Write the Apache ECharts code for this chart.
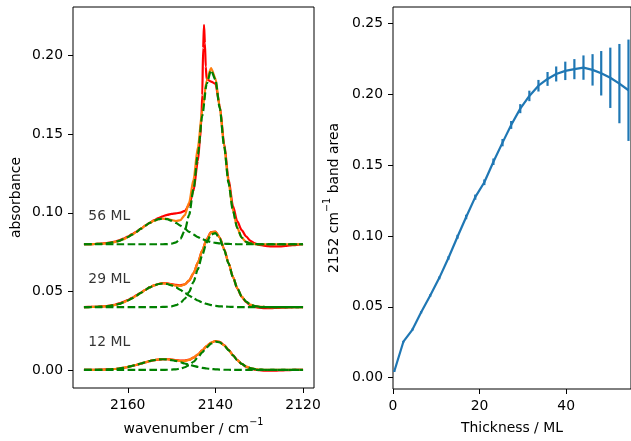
<!DOCTYPE html>
<html>
<head>
<meta charset="utf-8">
<script src="https://cdn.jsdelivr.net/npm/echarts@6/dist/echarts.min.js"></script>
<style>
html,body{margin:0;padding:0;background:#fff;}
#c{width:631px;height:441px;}
</style>
</head>
<body>
<div id="c"></div>
<script>
// ---------- Left panel data (wavenumber grid, cm^-1) ----------
const waveFit = [2170,2169,2168,2167,2166,2165,2164,2163,2162,2161,
  2160,2159,2158,2157,2156,2155,2154,2153,2152,2151,
  2150,2149,2148,2147,2146,2145,2144,2143,2142,2141,
  2140,2139,2138,2137,2136,2135,2134,2133,2132,2131,
  2130,2129,2128,2127,2126,2125,2124,2123,2122,2121,2120];

// 12 ML
const g1_12 = [0,0,0,0.0001,0.0001,0.0002,0.0004,0.0006,0.0009,0.0013,
  0.0019,0.0026,0.0033,0.0041,0.0049,0.0057,0.0063,0.0067,0.0068,0.0067,
  0.0063,0.0057,0.0049,0.0041,0.0033,0.0026,0.0019,0.0013,0.0009,0.0006,
  0.0004,0.0002,0.0001,0.0001,0,0,0,0,0,0,
  0,0,0,0,0,0,0,0,0,0,0];
const g2_12 = [0,0,0,0,0,0,0,0,0,0,
  0,0,0,0,0,0,0,0,0,0.0001,
  0.0002,0.0004,0.0008,0.0017,0.0031,0.0052,0.0080,0.0112,0.0144,0.0168,
  0.0180,0.0175,0.0155,0.0126,0.0093,0.0062,0.0038,0.0022,0.0011,0.0005,
  0.0002,0.0001,0,0,0,0,0,0,0,0,0];
const fit_12 = [0,0,0,0.0001,0.0001,0.0002,0.0004,0.0006,0.0009,0.0013,
  0.0019,0.0026,0.0033,0.0041,0.0049,0.0057,0.0063,0.0067,0.0068,0.0068,
  0.0065,0.0061,0.0057,0.0058,0.0064,0.0078,0.0099,0.0125,0.0153,0.0174,
  0.0184,0.0177,0.0156,0.0127,0.0093,0.0062,0.0038,0.0022,0.0011,0.0005,
  0.0002,0.0001,0,0,0,0,0,0,0,0,0];
const obs_12 = [0,0,0.0001,0.0001,0.0002,0.0003,0.0004,0.0006,0.0009,0.0013,
  0.0018,0.0025,0.0032,0.0040,0.0048,0.0056,0.0062,0.0066,0.0068,0.0068,
  0.0066,0.0063,0.0060,0.0060,0.0065,0.0078,0.0098,0.0124,0.0152,0.0173,
  0.0184,0.0178,0.0158,0.0128,0.0095,0.0063,0.0038,0.0021,0.0009,0.0002,
  -0.0002,-0.0004,-0.0005,-0.0005,-0.0004,-0.0003,-0.0002,-0.0001,0,0,0];

// 29 ML
const g1_29 = [0.0400,0.0400,0.0401,0.0402,0.0403,0.0405,0.0408,0.0413,0.0420,0.0430,
  0.0442,0.0456,0.0473,0.0491,0.0509,0.0525,0.0538,0.0547,0.0550,0.0547,
  0.0538,0.0525,0.0509,0.0491,0.0473,0.0456,0.0442,0.0430,0.0420,0.0413,
  0.0408,0.0405,0.0403,0.0402,0.0401,0.0400,0.0400,0.0400,0.0400,0.0400,
  0.0400,0.0400,0.0400,0.0400,0.0400,0.0400,0.0400,0.0400,0.0400,0.0400,0.0400];
const g2_29 = [0.0400,0.0400,0.0400,0.0400,0.0400,0.0400,0.0400,0.0400,0.0400,0.0400,
  0.0400,0.0400,0.0400,0.0400,0.0400,0.0400,0.0400,0.0400,0.0401,0.0402,
  0.0405,0.0412,0.0426,0.0453,0.0497,0.0561,0.0642,0.0731,0.0811,0.0862,
  0.0871,0.0836,0.0765,0.0678,0.0592,0.0520,0.0468,0.0435,0.0416,0.0407,
  0.0403,0.0401,0.0400,0.0400,0.0400,0.0400,0.0400,0.0400,0.0400,0.0400,0.0400];
const fit_29 = [0.0400,0.0400,0.0401,0.0402,0.0403,0.0405,0.0408,0.0413,0.0420,0.0430,
  0.0442,0.0456,0.0473,0.0491,0.0509,0.0525,0.0538,0.0547,0.0551,0.0549,
  0.0543,0.0537,0.0535,0.0544,0.0570,0.0617,0.0684,0.0761,0.0831,0.0875,
  0.0879,0.0841,0.0768,0.0680,0.0593,0.0520,0.0468,0.0435,0.0416,0.0407,
  0.0403,0.0401,0.0400,0.0400,0.0400,0.0400,0.0400,0.0400,0.0400,0.0400,0.0400];
const obs_29 = [0.0400,0.0401,0.0401,0.0402,0.0404,0.0406,0.0410,0.0415,0.0423,0.0433,
  0.0445,0.0459,0.0476,0.0493,0.0510,0.0525,0.0538,0.0547,0.0552,0.0551,
  0.0546,0.0541,0.0538,0.0545,0.0569,0.0615,0.0683,0.0761,0.0832,0.0877,
  0.0881,0.0843,0.0769,0.0680,0.0592,0.0518,0.0465,0.0431,0.0411,0.0401,
  0.0396,0.0394,0.0394,0.0394,0.0395,0.0396,0.0397,0.0398,0.0399,0.0400,0.0400];

// 56 ML
const g1_56 = [0.0800,0.0800,0.0801,0.0802,0.0803,0.0806,0.0809,0.0814,0.0822,0.0832,
  0.0845,0.0861,0.0879,0.0899,0.0918,0.0936,0.0950,0.0960,0.0963,0.0960,
  0.0950,0.0936,0.0918,0.0899,0.0879,0.0861,0.0845,0.0832,0.0822,0.0814,
  0.0809,0.0806,0.0803,0.0802,0.0801,0.0800,0.0800,0.0800,0.0800,0.0800,
  0.0800,0.0800,0.0800,0.0800,0.0800,0.0800,0.0800,0.0800,0.0800,0.0800,0.0800];
const g2_56 = [0.0800,0.0800,0.0800,0.0800,0.0800,0.0800,0.0800,0.0800,0.0800,0.0800,
  0.0800,0.0800,0.0800,0.0800,0.0800,0.0800,0.0800,0.0800,0.0800,0.0801,
  0.0804,0.0812,0.0835,0.0886,0.0986,0.1150,0.1373,0.1619,0.1820,0.1907,
  0.1848,0.1665,0.1422,0.1190,0.1014,0.0902,0.0842,0.0815,0.0805,0.0801,
  0.0800,0.0800,0.0800,0.0800,0.0800,0.0800,0.0800,0.0800,0.0800,0.0800,0.0800];
const fit_56 = [0.0800,0.0800,0.0801,0.0802,0.0803,0.0806,0.0809,0.0814,0.0822,0.0832,
  0.0845,0.0861,0.0879,0.0899,0.0918,0.0936,0.0950,0.0960,0.0963,0.0961,
  0.0954,0.0948,0.0953,0.0985,0.1065,0.1211,0.1418,0.1651,0.1842,0.1921,
  0.1857,0.1671,0.1425,0.1192,0.1015,0.0902,0.0842,0.0815,0.0805,0.0801,
  0.0800,0.0800,0.0800,0.0800,0.0800,0.0800,0.0800,0.0800,0.0800,0.0800,0.0800];
const waveObs56 = [2170,2169,2168,2167,2166,2165,2164,2163,2162,2161,
  2160,2159,2158,2157,2156,2155,2154,2153,2152,2151,
  2150,2149,2148,2147,2146,2145,
  2144,2143.5,2143.2,2143,2142.8,2142.6,2142.4,2142.2,2142,
  2141,2140,2139,2138,2137,2136,2135,2134,2133,2132,2131,
  2130,2129,2128,2127,2126,2125,2124,2123,2122,2121,2120];
const obs_56 = [0.0800,0.0801,0.0801,0.0802,0.0804,0.0807,0.0811,0.0817,0.0825,0.0836,
  0.0849,0.0864,0.0881,0.0899,0.0918,0.0936,0.0953,0.0967,0.0978,0.0987,
  0.0993,0.0997,0.1001,0.1012,0.1050,0.1140,
  0.1330,0.1470,0.1600,0.1750,0.2050,0.2197,0.2080,0.1930,0.1850,
  0.1835,0.1822,0.1680,0.1440,0.1215,0.1045,0.0945,0.0890,0.0850,0.0822,0.0805,
  0.0796,0.0791,0.0788,0.0786,0.0786,0.0787,0.0789,0.0792,0.0795,0.0798,0.0800];

const annotText = ['12 ML', '29 ML', '56 ML'];
const annotX = [2169, 2169, 2169];
const annotY = [0.0175, 0.0576, 0.0977];

const xTicksLeft = [2120, 2140, 2160];
const yTicksLeft = [0, 0.05, 0.10, 0.15, 0.20];

// ---------- Right panel data ----------
const thickness = [0.3,2.4,4.5,6.5,8.6,10.7,12.8,14.9,16.9,19.0,21.1,23.2,25.3,27.3,
  29.4,31.5,33.6,35.7,37.7,39.8,41.9,44.0,46.1,48.1,50.2,52.3,54.4];
const bandArea = [0.0045,0.0254,0.0340,0.0462,0.0580,0.0705,0.0845,0.0995,0.1135,0.1275,
  0.1380,0.1525,0.1660,0.1785,0.1900,0.1990,0.2062,0.2110,0.2145,0.2167,
  0.2179,0.2190,0.2174,0.2150,0.2118,0.2077,0.2030];
const bandErr = [0.0005,0.0006,0.0007,0.0008,0.0009,0.0010,0.0012,0.0014,0.0016,0.0018,
  0.0020,0.0023,0.0026,0.0028,0.0032,0.0037,0.0041,0.0049,0.0053,0.0065,
  0.0071,0.0086,0.0111,0.0157,0.0213,0.0280,0.0358];
const xTicksRight = [0, 20, 40];
const yTicksRight = [0, 0.05, 0.10, 0.15, 0.20, 0.25];

// ---------- Chart ----------
const FONT = 'DejaVu Sans';
const FS = 13.9;
const RED = '#ff0000', ORANGE = '#ff7f0e', GREEN = '#008000', BLUE = '#1f77b4';
const DASH = [7.6, 3.3];
const LW = 2.2;

function pairs(xs, ys) { return xs.map((x, i) => [x, ys[i]]); }

function lineSeries(xs, ys, color, dashed, gi) {
  return {
    type: 'line', xAxisIndex: gi, yAxisIndex: gi,
    data: pairs(xs, ys), showSymbol: false, symbol: 'none',
    smooth: 0.25, smoothMonotone: 'x',
    lineStyle: { color: color, width: LW, type: dashed ? DASH : 'solid' },
    itemStyle: { color: color }, silent: true, z: 2
  };
}

function axisCommon(ticks, fmt, margin) {
  return {
    axisLine: { show: false, onZero: false },
    splitLine: { show: false },
    axisTick: { show: true, customValues: ticks, length: 5, lineStyle: { color: '#000', width: 1 } },
    axisLabel: { customValues: ticks, formatter: fmt, margin: margin, color: '#000', fontFamily: FONT, fontSize: FS }
  };
}
const nameStyle = {
  color: '#000', fontFamily: FONT, fontSize: FS,
  rich: {
    a: { color: '#000', fontFamily: FONT, fontSize: FS, lineHeight: 19, verticalAlign: 'bottom' },
    s: { color: '#000', fontFamily: FONT, fontSize: 9.7, lineHeight: 12, verticalAlign: 'top' }
  }
};

const series = [];
[[obs_12, fit_12, g1_12, g2_12], [obs_29, fit_29, g1_29, g2_29]].forEach(s => {
  series.push(lineSeries(waveFit, s[0], RED, false, 0));
  series.push(lineSeries(waveFit, s[1], ORANGE, false, 0));
  series.push(lineSeries(waveFit, s[2], GREEN, true, 0));
  series.push(lineSeries(waveFit, s[3], GREEN, true, 0));
});
series.push(lineSeries(waveObs56, obs_56, RED, false, 0));
series.push(lineSeries(waveFit, fit_56, ORANGE, false, 0));
series.push(lineSeries(waveFit, g1_56, GREEN, true, 0));
series.push(lineSeries(waveFit, g2_56, GREEN, true, 0));

series.push({
  type: 'scatter', xAxisIndex: 0, yAxisIndex: 0, symbolSize: 0, silent: true,
  data: annotText.map((t, i) => [annotX[i], annotY[i], t]),
  label: { show: true, position: 'right', distance: 0, formatter: p => p.data[2],
    color: '#000', fontFamily: FONT, fontSize: FS }
});

series.push({
  type: 'line', xAxisIndex: 1, yAxisIndex: 1, data: pairs(thickness, bandArea),
  showSymbol: false, symbol: 'none', lineStyle: { color: BLUE, width: LW }, silent: true
});
series.push({
  type: 'custom', xAxisIndex: 1, yAxisIndex: 1, silent: true,
  data: thickness.map((x, i) => [x, bandArea[i], bandErr[i]]),
  renderItem: function (params, api) {
    const x = api.value(0), y = api.value(1), e = api.value(2);
    const p1 = api.coord([x, y - e]);
    const p2 = api.coord([x, y + e]);
    return { type: 'line', shape: { x1: p1[0], y1: p1[1], x2: p2[0], y2: p2[1] },
      style: { stroke: BLUE, lineWidth: LW } };
  }
});

const option = {
  animation: false,
  backgroundColor: '#fff',
  grid: [
    { left: 73, top: 7, width: 241, height: 382, show: true, borderColor: '#000', borderWidth: 1, containLabel: false },
    { left: 393, top: 7, width: 240, height: 382, show: true, borderColor: '#000', borderWidth: 1, containLabel: false }
  ],
  xAxis: [
    Object.assign({ gridIndex: 0, type: 'value', inverse: true, min: 2117.5, max: 2172.5,
      name: '{a|wavenumber / cm}{s|−1}', nameLocation: 'middle', nameGap: 29, nameTextStyle: nameStyle },
      axisCommon(xTicksLeft, v => String(v), 10)),
    Object.assign({ gridIndex: 1, type: 'value', min: 0, max: 54.98,
      name: 'Thickness / ML', nameLocation: 'middle', nameGap: 32, nameTextStyle: nameStyle },
      axisCommon(xTicksRight, v => String(v), 10))
  ],
  yAxis: [
    Object.assign({ gridIndex: 0, type: 'value', min: -0.0115, max: 0.231,
      name: 'absorbance', nameLocation: 'middle', nameGap: 50, nameTextStyle: nameStyle },
      axisCommon(yTicksLeft, v => v.toFixed(2), 10)),
    Object.assign({ gridIndex: 1, type: 'value', min: -0.008, max: 0.2618,
      name: '{a|2152 cm}{s|−1}{a| band area}', nameLocation: 'middle', nameGap: 52, nameTextStyle: nameStyle },
      axisCommon(yTicksRight, v => v.toFixed(2), 10))
  ],
  series: series
};

const chart = echarts.init(document.getElementById('c'), null, { renderer: 'canvas' });
chart.setOption(option);
</script>
</body>
</html>
